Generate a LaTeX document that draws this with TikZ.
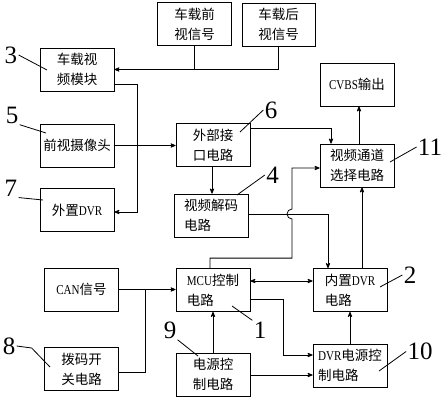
\documentclass[tikz,border=0pt]{standalone}
\usepackage{fontspec}
\newfontfamily\cjk{Noto Sans CJK SC}
\newfontfamily\lat{Liberation Serif}[FakeStretch=0.82]
\newfontfamily\numfont{Liberation Serif}
\usetikzlibrary{arrows}

\begin{document}
\begin{tikzpicture}[>=stealth',x=1pt,y=1pt,line width=0.8pt]
  \tikzstyle{block}=[draw,minimum width=74pt,minimum height=43pt,align=left,
                     inner sep=2pt,font=\cjk\fontsize{13.5}{20}\selectfont]
  \tikzstyle{num}=[inner sep=1pt,font=\numfont\fontsize{25}{25}\selectfont]
  \useasboundingbox (0,0) rectangle (445,400);

  \node[block] (FV)   at (194.5,376)  {车载前\\视信号};
  \node[block,minimum width=73pt] (RV) at (278.5,375.5) {车载后\\视信号};
  \node[block] (VM)   at (77,330.5)   {车载视\\频模块};
  \node[block] (CAM)  at (77,254.5)   {前视摄像头};
  \node[block] (XDVR) at (77,190)     {外置{\lat DVR}};
  \node[block] (EXT)  at (213,255)    {外部接\\口电路};
  \node[block] (DEC)  at (211,184.5)  {视频解码\\电路};
  \node[block] (SEL)  at (357,234.5)  {视频通道\\选择电路};
  \node[block] (CVBS) at (357,315.5)  {{\lat CVBS}输出};
  \node[block] (CAN)  at (81.5,110.5) {{\lat CAN}信号};
  \node[block] (DIP)  at (81.5,31)    {拨码开\\关电路};
  \node[block] (MCU)  at (213,110)    {{\lat MCU}控制\\电路};
  \node[block] (PWR)  at (213,25.5)   {电源控\\制电路};
  \node[block] (IDVR) at (350,110)    {内置{\lat DVR}\\电路};
  \node[block] (DPWR) at (350,34.5)   {{\lat DVR}电源控\\制电路};

  % video signals
  \draw[->] (FV.south) |- (VM.east);
  \draw (RV.south) |- (FV.south |- VM.east);
  \draw[->] ([yshift=-14.5pt]VM.east) -- ++(23pt,0) |- ([yshift=-2pt]XDVR.east);
  \draw[->] (CAM.east) -- (CAM.east -| EXT.west);
  \draw[->] ([yshift=17pt]EXT.east) -| ([xshift=-26pt]SEL.north);
  \draw[->] ([xshift=2pt]SEL.north) -- ([xshift=2pt]CVBS.south);
  \draw[->] ([xshift=-1pt]EXT.south) -- ([xshift=-1pt]EXT.south |- DEC.north);
  \draw[->] ([yshift=1.5pt]DEC.east) -| ([xshift=-22pt]IDVR.north);
  \coordinate (hop) at (292,186);
  \draw[->] ([xshift=-3pt]MCU.north) -- ++(0,10pt) -| ([yshift=-5pt]hop)
        arc[start angle=-90,end angle=-270,radius=5pt] |- ([yshift=-2.5pt]SEL.west);
  \draw[->] ([xshift=12pt]IDVR.north) -- ([xshift=12pt]IDVR.north |- SEL.south);

  % control and power
  \draw[<->] ([yshift=9pt]MCU.east) -- ([yshift=9pt]IDVR.west);
  \draw[->] ([yshift=-9pt]MCU.east) -- ++(33pt,0) |- ([yshift=10.5pt]DPWR.west);
  \draw[->] (DPWR.north) -- (IDVR.south);
  \draw[->] (PWR.north) -- (MCU.south);
  \draw[->] ([yshift=-0.5pt]PWR.east) -- ([yshift=-0.5pt]PWR.east -| DPWR.west);
  \draw[->] (CAN.east) -- (CAN.east -| MCU.west);
  \draw ([yshift=-3pt]DIP.east) -| ([xshift=26pt]CAN.east);

  % reference numerals
  \node[num] (L1)  at (260,70)    {1};
  \node[num] (L2)  at (410,125)   {2};
  \node[num] (L3)  at (11,345)    {3};
  \node[num] (L4)  at (272.5,225) {4};
  \node[num] (L5)  at (12,285)    {5};
  \node[num] (L6)  at (271,290)   {6};
  \node[num] (L7)  at (11,212)    {7};
  \node[num] (L8)  at (9,54)      {8};
  \node[num] (L9)  at (170,70)    {9};
  \node[num] (L10) at (420,48.5)  {10};
  \node[num] (L11) at (430,253)   {11};
  \coordinate (P1)  at (232,94);
  \coordinate (P2)  at (380,113);
  \coordinate (P3)  at (47,330);
  \coordinate (P4)  at (237,205);
  \coordinate (P5)  at (46,267);
  \coordinate (P6)  at (240,268);
  \coordinate (P7)  at (43,200);
  \coordinate (P8)  at (50,33);
  \coordinate (P9)  at (198,44);
  \coordinate (P10) at (379,29);
  \coordinate (P11) at (390,238);
  \draw (L1.north west) -- (P1);
  \draw (L2.west) -- (P2);
  \draw (L3.east) -- (P3);
  \draw (L4.west) -- (P4);
  \draw (L5.south east) -- (P5);
  \draw (L6.west) -- (P6);
  \draw (L7.south east) -- (P7);
  \draw (L8.east) -- ++(15pt,-2pt) -- (P8);
  \draw (L9.south east) -- (P9);
  \draw (L10.west) -- (P10);
  \draw (L11.west) -- (P11);
\end{tikzpicture}
\end{document}
